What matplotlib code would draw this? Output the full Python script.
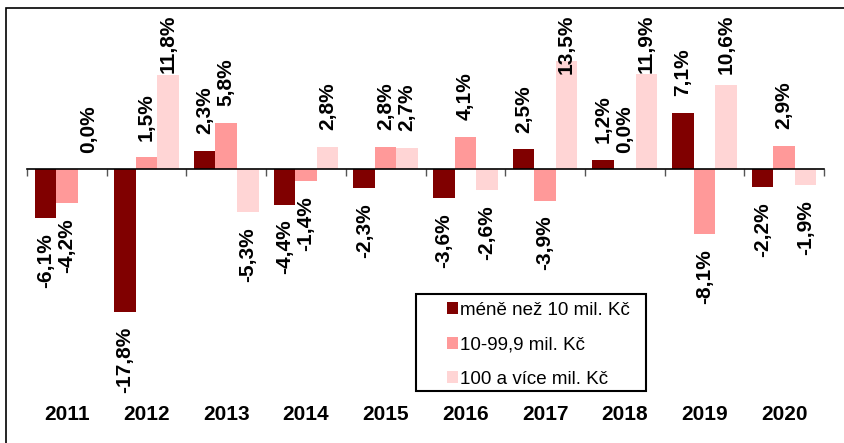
import matplotlib
matplotlib.use('Agg')
import matplotlib.pyplot as plt
import matplotlib.transforms as mtransforms
from matplotlib.patches import Patch, Rectangle
import numpy as np

plt.rcParams['font.family'] = ['Liberation Sans', 'DejaVu Sans']

# data
years = ['2011', '2012', '2013', '2014', '2015', '2016', '2017', '2018', '2019', '2020']
small = [-6.1, -17.8, 2.3, -4.4, -2.3, -3.6, 2.5, 1.2, 7.1, -2.2]
medium = [-4.2, 1.5, 5.8, -1.4, 2.8, 4.1, -3.9, 0.0, -8.1, 2.9]
large = [0.0, 11.8, -5.3, 2.8, 2.7, -2.6, 13.5, 11.9, 10.6, -1.9]
series_names = ['méně než 10 mil. Kč', '10-99,9 mil. Kč', '100 a více mil. Kč']
colors = ['#800000', '#FF9999', '#FFD5D5']

W, H = 844, 443
fig = plt.figure(figsize=(W / 100, H / 100), dpi=100)

# axes placed in pixel terms: x 27..824, y 15..400 (from top)
ax = fig.add_axes([27 / W, 1 - 400 / H, (824 - 27) / W, (400 - 15) / H])
zero_px = 169.3
px_per_pct = 8.0
ax.set_ylim(-(400 - zero_px) / px_per_pct, (zero_px - 15) / px_per_pct)
ax.set_xlim(0, len(years))

x = np.arange(len(years)) + 0.5
bw = 0.27
labels = []
for i, (vals, col) in enumerate(zip([small, medium, large], colors)):
    xs = x + (i - 1) * bw
    ax.bar(xs, vals, width=bw, color=col, edgecolor='none')
    for xi, v in zip(xs, vals):
        txt = f'{v:.1f}%'.replace('.', ',')
        if v >= 0:
            t = ax.annotate(txt, (xi, v), xytext=(0, 12), textcoords='offset points',
                            rotation=90, ha='center', va='bottom',
                            fontsize=15, fontweight='bold')
        else:
            t = ax.annotate(txt, (xi, v), xytext=(0, -11), textcoords='offset points',
                            rotation=90, ha='center', va='top',
                            fontsize=15, fontweight='bold')
        labels.append(t)

# zero line with small ticks at group boundaries
for s in ['top', 'right', 'left']:
    ax.spines[s].set_visible(False)
ax.spines['bottom'].set_position(('data', 0))
ax.spines['bottom'].set_linewidth(1.2)
ax.set_xticks(np.arange(len(years) + 1))
ax.set_xticklabels([])
ax.tick_params(axis='x', direction='out', length=5, width=1, color='#555555')
ax.set_yticks([])

# year labels below the plot
trans = mtransforms.blended_transform_factory(ax.transData, fig.transFigure)
for xi, yr in zip(x, years):
    ax.text(xi, 1 - 414.5 / H, yr, transform=trans, ha='center', va='center',
            fontsize=15, fontweight='bold')

# legend: entries without frame, box drawn separately
handles = [Patch(facecolor=c, edgecolor='none') for c in colors]
leg = fig.legend(handles, series_names, loc='upper left',
                 bbox_to_anchor=(447 / W, 1 - 302 / H), bbox_transform=fig.transFigure,
                 fontsize=13.5, frameon=False,
                 handlelength=0.6, handleheight=0.6, handletextpad=0.1,
                 labelspacing=0.92, borderpad=0, borderaxespad=0)
leg.set_zorder(5)
fig.patches.append(Rectangle((416 / W, 1 - 391 / H), (646 - 416) / W, (391 - 294) / H,
                             transform=fig.transFigure, facecolor='white',
                             edgecolor='black', linewidth=1.5, zorder=4))

# outer frame (runs off the right and bottom edges)
fig.patches.append(Rectangle((6 / W, -0.05), 1.2, 1.05 - 7.5 / H, transform=fig.transFigure,
                             fill=False, edgecolor='black', linewidth=1.2))

# keep tall labels inside the chart, as the original does
fig.canvas.draw()
renderer = fig.canvas.get_renderer()
top_limit = H - 15
for t in labels:
    bb = t.get_window_extent(renderer)
    if bb.y1 > top_limit:
        dx, dy = t.xyann
        t.xyann = (dx, dy - (bb.y1 - top_limit) * 72 / fig.dpi)

fig.savefig('out.png', dpi=100)
